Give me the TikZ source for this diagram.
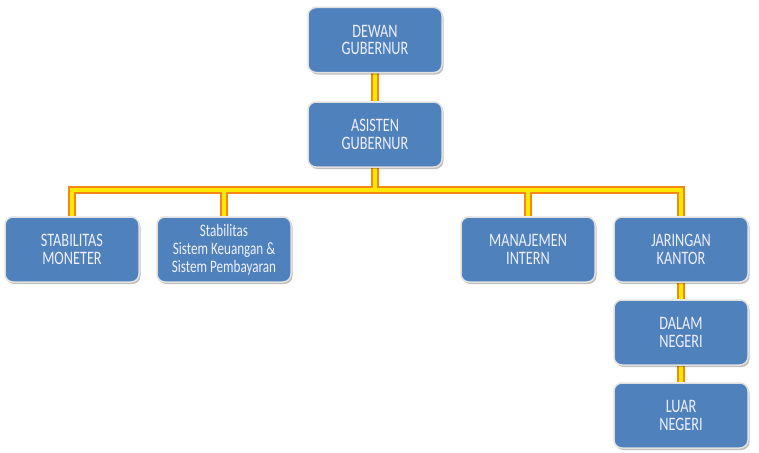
\documentclass[tikz,border=0pt]{standalone}
\usepackage{fontspec}
\usepackage{tikz}
\usetikzlibrary{shadows,backgrounds}
\newfontfamily\orgfont[FakeStretch=0.75]{Carlito}
\definecolor{myBlue}{RGB}{79,129,189}
\definecolor{myOrange}{RGB}{245,135,20}
\definecolor{myYellow}{RGB}{255,232,0}
\tikzset{
	obox/.style={
		draw=white!88!black,
		fill=myBlue,
		rounded corners=8pt,
		line width=1.5pt,
		align=center,
		inner sep=2pt,
		minimum width=134pt,
		minimum height=65pt,
		text=white!94!blue,
		font=\orgfont\fontsize{19}{17.5}\selectfont,
		drop shadow={shadow xshift=1.5pt, shadow yshift=-2pt, opacity=0.25, fill=black}
	},
	lout/.style={myOrange, line width=8pt},
	lin/.style={myYellow, line width=3.5pt}
}

\begin{document}
\begin{tikzpicture}[x=1pt, y=-1pt]
		\useasboundingbox (0,0) rectangle (759,452);
		\node[obox] (dewan) at (375,40) {DEWAN\\GUBERNUR};
		\node[obox] (asisten) at (375,134.5) {ASISTEN\\GUBERNUR};
		\node[obox] (moneter) at (72,249.5) {STABILITAS\\MONETER};
		\node[obox, font=\orgfont\fontsize{17.5}{18}\selectfont] (sistem) at (224,249.5) {Stabilitas\\Sistem Keuangan \&\\Sistem Pembayaran};
		\node[obox] (intern) at (528,249.5) {MANAJEMEN\\INTERN};
		\node[obox] (kantor) at (681,249.5) {JARINGAN\\KANTOR};
		\node[obox] (dalam) at (681,332.5) {DALAM\\NEGERI};
		\node[obox] (luar) at (681,415.5) {LUAR\\NEGERI};
		\coordinate (bus) at (375,190);
		\begin{scope}[on background layer]
			\foreach \lk in {lout, lin} {
				\draw[\lk] (dewan.south) -- (asisten.north);
				\draw[\lk] (asisten.south) -- (bus);
				\draw[\lk] (moneter.north) |- (bus) -| (kantor.north);
				\draw[\lk] (sistem.north) -- (sistem.north |- bus);
				\draw[\lk] (intern.north) -- (intern.north |- bus);
				\draw[\lk] (kantor.south) -- (dalam.north);
				\draw[\lk] (dalam.south) -- (luar.north);
			}
		\end{scope}
	\end{tikzpicture}
\end{document}
